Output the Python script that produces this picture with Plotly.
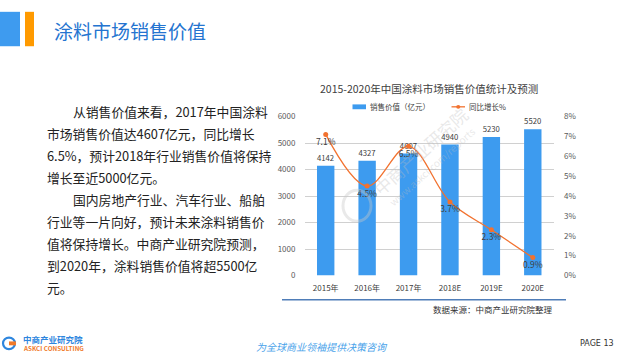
import plotly.graph_objects as go

# ---------------- data ----------------
categories = ["2015年", "2016年", "2017年", "2018E", "2019E", "2020E"]
sales_value = [4142, 4327, 4607, 4940, 5230, 5520]          # 亿元
growth_rate = [0.071, 0.045, 0.065, 0.037, 0.023, 0.009]    # 同比增长
growth_labels = ["7.1%", "4.5%", "6.5%", "3.7%", "2.3%", "0.9%"]

page_title = "涂料市场销售价值"
chart_title = "2015-2020年中国涂料市场销售价值统计及预测"
bar_name = "销售价值（亿元）"
line_name = "同比增长%"
source_text = "数据来源：中商产业研究院整理"
page_label = "PAGE 13"
body_lines = [
    ("从销售价值来看，2017年中国涂料", True),
    ("市场销售价值达4607亿元，同比增长", False),
    ("6.5%，预计2018年行业销售价值将保持", False),
    ("增长至近5000亿元。", False),
    ("国内房地产行业、汽车行业、船舶", True),
    ("行业等一片向好，预计未来涂料销售价", False),
    ("值将保持增长。中商产业研究院预测，", False),
    ("到2020年，涂料销售价值将超5500亿", False),
    ("元。", False),
]

W, H = 625, 360
FONT = "Noto Sans CJK SC"
BAR_COLOR = "#3D9BEF"
LINE_COLOR = "#F2722F"


def px(x):
    return x / W


def py(y):
    return 1 - y / H


fig = go.Figure()

fig.add_trace(go.Bar(
    x=categories, y=sales_value, name=bar_name,
    marker=dict(color=BAR_COLOR, line=dict(width=0)),
    width=0.42,
    text=[str(v) for v in sales_value], textposition="outside",
    textfont=dict(size=8.5, color="#404040", family=FONT),
    cliponaxis=False, showlegend=False,
))

fig.add_trace(go.Scatter(
    x=categories, y=growth_rate, name=line_name, yaxis="y2",
    mode="lines+markers+text",
    line=dict(color=LINE_COLOR, width=1.3, shape="spline", smoothing=1.0),
    marker=dict(color=LINE_COLOR, size=5),
    text=growth_labels, textposition="bottom center",
    textfont=dict(size=8.5, color="#404040", family=FONT),
    cliponaxis=False, showlegend=False,
))

fig.update_layout(
    width=W, height=H,
    margin=dict(l=0, r=0, t=0, b=0),
    paper_bgcolor="white", plot_bgcolor="white",
    font=dict(family=FONT, color="#404040"),
    showlegend=False,
    xaxis=dict(
        domain=[px(305), px(553.5)],
        showgrid=False, zeroline=False, showline=False,
        ticks="outside", ticklen=5, tickcolor="rgba(0,0,0,0)",
        tickfont=dict(size=8, color="#404040", family=FONT),
    ),
    yaxis=dict(
        domain=[py(278), py(114)],
        range=[0, 6000], dtick=1000,
        showgrid=True, gridcolor="#D0D0D0", gridwidth=1,
        zeroline=False, showline=False,
        ticks="outside", ticklen=7, tickcolor="rgba(0,0,0,0)",
        tickfont=dict(size=8, color="#595959", family=FONT),
    ),
    yaxis2=dict(
        overlaying="y", side="right",
        range=[0, 0.08], dtick=0.01, tickformat=".0%",
        showgrid=False, zeroline=False, showline=False,
        ticks="outside", ticklen=8, tickcolor="rgba(0,0,0,0)",
        tickfont=dict(size=8, color="#595959", family=FONT),
    ),
)

shapes = []
annotations = []

# header blocks
shapes.append(dict(type="rect", xref="paper", yref="paper",
                   x0=px(0), x1=px(20), y0=py(41.5), y1=py(6),
                   fillcolor="#3E9BEF", line=dict(width=0)))
shapes.append(dict(type="rect", xref="paper", yref="paper",
                   x0=px(25), x1=px(34), y0=py(41.5), y1=py(6),
                   fillcolor="#FF9A00", line=dict(width=0)))
annotations.append(dict(text=page_title, xref="paper", yref="paper",
                        x=px(52), y=py(25.5), xanchor="left", yanchor="middle",
                        showarrow=False,
                        font=dict(size=19, color="#2474D0", family=FONT)))

# body paragraph
y0 = 109
for i, (line, indent) in enumerate(body_lines):
    annotations.append(dict(text=line, xref="paper", yref="paper",
                            x=px(70.5 if indent else 44.5), y=py(y0 + i * 22.7),
                            xanchor="left", yanchor="middle", showarrow=False,
                            font=dict(size=12.8, color="#222222", family=FONT)))

# chart title
annotations.append(dict(text=chart_title, xref="paper", yref="paper",
                        x=px(429), y=py(85), xanchor="center", yanchor="middle",
                        showarrow=False,
                        font=dict(size=10.5, color="#404040", family=FONT)))

# custom legend
shapes.append(dict(type="rect", xref="paper", yref="paper",
                   x0=px(352.5), x1=px(366), y0=py(106.5), y1=py(101.5),
                   fillcolor=BAR_COLOR, line=dict(width=0)))
annotations.append(dict(text=bar_name, xref="paper", yref="paper",
                        x=px(368), y=py(104), xanchor="left", yanchor="middle",
                        showarrow=False,
                        font=dict(size=7.5, color="#404040", family=FONT)))
shapes.append(dict(type="line", xref="paper", yref="paper",
                   x0=px(451.5), x1=px(465), y0=py(104), y1=py(104),
                   line=dict(color=LINE_COLOR, width=1.3)))
shapes.append(dict(type="circle", xref="paper", yref="paper",
                   x0=px(456.2), x1=px(460.3), y0=py(106), y1=py(102),
                   fillcolor=LINE_COLOR, line=dict(width=0)))
annotations.append(dict(text=line_name, xref="paper", yref="paper",
                        x=px(467), y=py(104), xanchor="left", yanchor="middle",
                        showarrow=False,
                        font=dict(size=7.5, color="#404040", family=FONT)))

# watermark
annotations.append(dict(text="中商产业研究院", xref="paper", yref="paper",
                        x=px(420), y=py(150), xanchor="center", yanchor="middle",
                        textangle=-42, showarrow=False,
                        font=dict(size=17, color="rgba(190,190,190,0.35)", family=FONT)))
annotations.append(dict(text="www.askci.com/reports", xref="paper", yref="paper",
                        x=px(432), y=py(166), xanchor="center", yanchor="middle",
                        textangle=-42, showarrow=False,
                        font=dict(size=10, color="rgba(190,190,190,0.35)", family=FONT)))
shapes.append(dict(type="circle", xref="paper", yref="paper",
                   x0=px(343), x1=px(371), y0=py(222), y1=py(190),
                   fillcolor="rgba(0,0,0,0)",
                   line=dict(color="rgba(200,200,200,0.4)", width=3)))

# bottom rule + source
shapes.append(dict(type="line", xref="paper", yref="paper",
                   x0=px(282), x1=px(566), y0=py(303), y1=py(303),
                   line=dict(color="#4F7DB8", width=1.5)))
annotations.append(dict(text=source_text, xref="paper", yref="paper",
                        x=px(555), y=py(313), xanchor="right", yanchor="middle",
                        showarrow=False,
                        font=dict(size=8.5, color="#333333", family=FONT)))

# footer logo
shapes.append(dict(type="circle", xref="paper", yref="paper",
                   x0=px(3), x1=px(15), y0=py(354), y1=py(342),
                   fillcolor="rgba(0,0,0,0)",
                   line=dict(color="#2E86DE", width=2.2)))
shapes.append(dict(type="rect", xref="paper", yref="paper",
                   x0=px(9), x1=px(16), y0=py(350), y1=py(346),
                   fillcolor="#F07A2A", line=dict(width=0)))
annotations.append(dict(text="<b>中商产业研究院</b>", xref="paper", yref="paper",
                        x=px(21), y=py(344), xanchor="left", yanchor="middle",
                        showarrow=False,
                        font=dict(size=8.5, color="#2E86DE", family=FONT)))
annotations.append(dict(text="<b>ASKCI CONSULTING</b>", xref="paper", yref="paper",
                        x=px(21), y=py(353), xanchor="left", yanchor="middle",
                        showarrow=False,
                        font=dict(size=6.3, color="#F07A2A", family=FONT)))
annotations.append(dict(text="<i>为全球商业领袖提供决策咨询</i>", xref="paper", yref="paper",
                        x=px(322), y=py(351.5), xanchor="center", yanchor="middle",
                        showarrow=False,
                        font=dict(size=10, color="#4BA3EA", family=FONT)))
annotations.append(dict(text=page_label, xref="paper", yref="paper",
                        x=px(597), y=py(348.5), xanchor="center", yanchor="middle",
                        showarrow=False,
                        font=dict(size=8, color="#333333", family="DejaVu Sans")))

fig.update_layout(shapes=shapes, annotations=annotations)

fig.write_html(
    "out.html",
    config={"displayModeBar": False},
    post_script="document.body.style.margin='0';document.body.style.overflow='hidden';",
)
